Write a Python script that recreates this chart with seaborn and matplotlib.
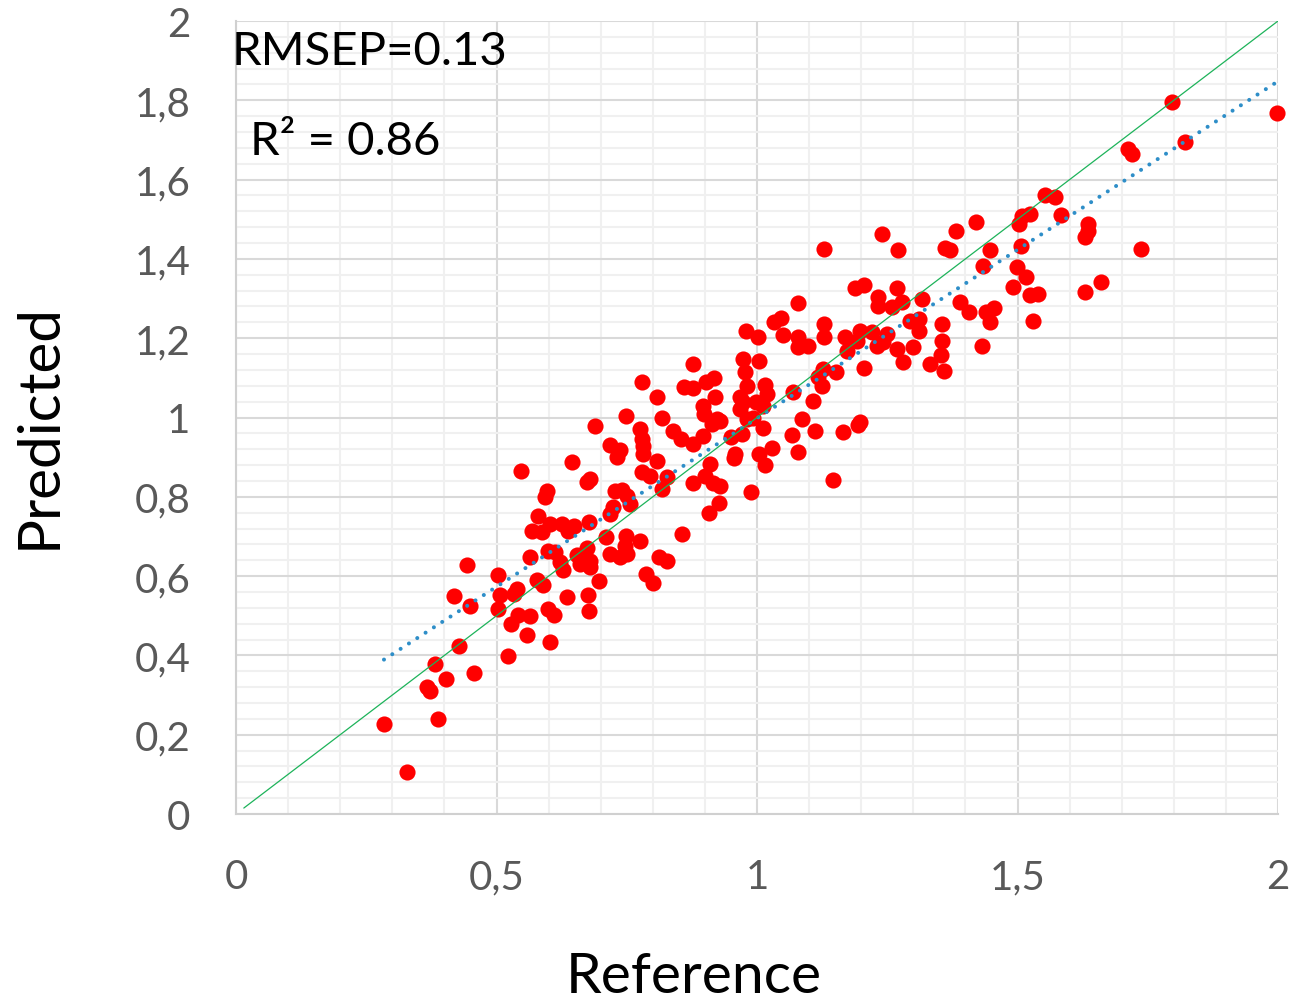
import matplotlib
matplotlib.use("Agg")
import matplotlib.pyplot as plt
from matplotlib.ticker import FixedLocator, FixedFormatter, MultipleLocator
import seaborn as sns
import pandas as pd

# ---------------- data ----------------
reference = [
    0.284, 0.328, 0.366, 0.372, 0.382, 0.388, 0.403, 0.418, 0.428, 0.444, 0.449, 0.457,
    0.503, 0.503, 0.507, 0.523, 0.528, 0.534, 0.539, 0.542, 0.547, 0.558, 0.564, 0.564,
    0.568, 0.577, 0.580, 0.587, 0.589, 0.593, 0.596, 0.598, 0.599, 0.603, 0.603, 0.610, 0.612,
    0.622, 0.628, 0.626, 0.637, 0.649, 0.636, 0.644, 0.654, 0.660, 0.673, 0.673, 0.680,
    0.678, 0.679, 0.679, 0.689, 0.696, 0.676, 0.678, 0.710, 0.718, 0.718, 0.737, 0.731,
    0.727, 0.740, 0.750, 0.756, 0.724, 0.718, 0.737, 0.750, 0.749, 0.747, 0.749, 0.775,
    0.779, 0.781, 0.782, 0.779, 0.775, 0.779, 0.795, 0.787, 0.801,
    0.809, 0.817, 0.839, 0.809, 0.827, 0.817, 0.811, 0.828, 0.857, 0.855, 0.878, 0.878,
    0.859, 0.878, 0.903, 0.917, 0.897, 0.898, 0.919, 0.923, 0.929, 0.913, 0.897, 0.910,
    0.878, 0.900, 0.916, 0.929, 0.928, 0.908, 0.951, 0.971, 0.958, 0.955, 0.973, 1.004,
    0.977, 0.980, 1.015, 1.019, 0.967, 0.973, 0.999, 1.012, 0.967, 0.980, 0.993, 1.012,
    1.004, 1.028, 1.015, 0.988, 1.067, 1.070, 1.086, 0.979, 1.002, 1.033, 1.047, 1.049,
    1.078, 1.079, 1.079, 1.098, 1.129, 1.129, 1.169, 1.172, 1.191, 1.198, 1.220, 1.233,
    1.233, 1.259, 1.278, 1.268, 1.189, 1.205, 1.316, 1.294, 1.310, 1.310, 1.249, 1.230,
    1.242, 1.268, 1.300, 1.281, 1.355, 1.356, 1.353, 1.332, 1.359, 1.390, 1.407, 1.440,
    1.454, 1.447, 1.431, 1.127, 1.118, 1.124, 1.152, 1.206, 1.107, 1.111, 1.166, 1.198,
    1.194, 1.079, 1.145, 1.129, 1.239, 1.271, 1.382, 1.420, 1.361, 1.370, 1.447, 1.434,
    1.509, 1.524, 1.502, 1.553, 1.572, 1.583, 1.636, 1.636, 1.630, 1.506, 1.737, 1.499,
    1.516, 1.491, 1.524, 1.540, 1.630, 1.660, 1.529, 1.796, 1.998, 1.822, 1.713, 1.719,
]
predicted = [
    0.227, 0.105, 0.320, 0.311, 0.378, 0.240, 0.340, 0.549, 0.423, 0.628, 0.525, 0.356,
    0.603, 0.517, 0.552, 0.399, 0.479, 0.555, 0.567, 0.502, 0.866, 0.451, 0.647, 0.500,
    0.715, 0.591, 0.752, 0.710, 0.578, 0.799, 0.815, 0.517, 0.664, 0.731, 0.435, 0.502, 0.662,
    0.635, 0.616, 0.731, 0.714, 0.726, 0.547, 0.887, 0.653, 0.631, 0.671, 0.838, 0.846,
    0.736, 0.638, 0.623, 0.979, 0.588, 0.552, 0.513, 0.699, 0.656, 0.931, 0.919, 0.900,
    0.815, 0.818, 0.802, 0.782, 0.774, 0.757, 0.648, 0.656, 0.701, 0.677, 1.004, 0.971,
    0.946, 0.928, 0.908, 1.089, 0.689, 0.862, 0.853, 0.605, 0.583,
    1.051, 1.000, 0.967, 0.891, 0.849, 0.820, 0.647, 0.639, 0.706, 0.946, 0.933, 1.135,
    1.076, 1.074, 1.089, 1.099, 1.030, 1.009, 1.051, 0.996, 0.992, 0.984, 0.954, 0.883,
    0.835, 0.852, 0.835, 0.828, 0.784, 0.759, 0.950, 0.958, 0.908, 0.897, 1.148, 1.143,
    1.114, 1.080, 1.082, 1.059, 1.051, 1.038, 1.038, 1.030, 1.021, 0.996, 1.000, 0.973,
    0.908, 0.922, 0.880, 0.811, 0.956, 1.064, 0.995, 1.219, 1.202, 1.240, 1.250, 1.208,
    1.289, 1.202, 1.177, 1.180, 1.236, 1.202, 1.202, 1.168, 1.194, 1.219, 1.215, 1.303,
    1.282, 1.278, 1.291, 1.327, 1.327, 1.333, 1.299, 1.244, 1.248, 1.219, 1.211, 1.181,
    1.190, 1.173, 1.177, 1.139, 1.235, 1.194, 1.158, 1.135, 1.118, 1.291, 1.267, 1.267,
    1.275, 1.242, 1.180, 1.122, 1.101, 1.080, 1.116, 1.124, 1.042, 0.965, 0.963, 0.989,
    0.982, 0.912, 0.843, 1.425, 1.463, 1.423, 1.471, 1.494, 1.427, 1.423, 1.422, 1.383,
    1.508, 1.513, 1.489, 1.560, 1.555, 1.511, 1.488, 1.471, 1.456, 1.433, 1.425, 1.379,
    1.354, 1.329, 1.310, 1.311, 1.316, 1.342, 1.243, 1.795, 1.768, 1.696, 1.677, 1.665,
]

identity_x = [0.015, 2.0]          # 1:1 line end points
trend_slope = 0.85                 # Excel linear trend line
trend_intercept = 0.148

x_ticks = [0, 0.5, 1, 1.5, 2]
x_tick_labels = ["0", "0,5", "1", "1,5", "2"]
y_ticks = [0, 0.2, 0.4, 0.6, 0.8, 1.0, 1.2, 1.4, 1.6, 1.8, 2.0]
y_tick_labels = ["0", "0,2", "0,4", "0,6", "0,8", "1", "1,2", "1,4", "1,6", "1,8", "2"]

x_label = "Reference"
y_label = "Predicted"
rmsep_text = "RMSEP=0.13"
r2_text = "R² = 0.86"

# ---------------- drawing ----------------
sns.set_theme(style="white")
plt.rcParams["font.family"] = ["Lato", "DejaVu Sans"]

df = pd.DataFrame({"Reference": reference, "Predicted": predicted})

fig = plt.figure(figsize=(12.93, 10.04), dpi=100)
ax = fig.add_axes([236 / 1293, 1 - 815 / 1004, (1278 - 236) / 1293, (815 - 22) / 1004])

ax.set_xlim(0, 2)
ax.set_ylim(0, 2)

ax.xaxis.set_major_locator(FixedLocator(x_ticks))
ax.xaxis.set_major_formatter(FixedFormatter(x_tick_labels))
ax.yaxis.set_major_locator(FixedLocator(y_ticks))
ax.yaxis.set_major_formatter(FixedFormatter(y_tick_labels))
ax.xaxis.set_minor_locator(MultipleLocator(0.1))
ax.yaxis.set_minor_locator(MultipleLocator(0.04))

ax.grid(which="minor", color="#F0F0F0", linewidth=1.5, zorder=0)
ax.grid(which="major", color="#D9D9D9", linewidth=1.5, zorder=0)
ax.set_axisbelow(True)

for s in ax.spines.values():
    s.set_visible(False)
ax.spines["left"].set_visible(True)
ax.spines["bottom"].set_visible(True)
ax.spines["left"].set_color("#D0D0D0")
ax.spines["bottom"].set_color("#D0D0D0")
ax.spines["left"].set_linewidth(1.5)
ax.spines["bottom"].set_linewidth(1.5)

ax.tick_params(which="both", length=0)
ax.tick_params(axis="both", which="major", labelsize=29, labelcolor="#595959")
ax.tick_params(axis="x", pad=32)
ax.tick_params(axis="y", pad=33)

sns.scatterplot(data=df, x="Reference", y="Predicted", ax=ax, s=135,
                color="#FF0000", linewidth=0, zorder=3, legend=False, clip_on=False)

tx = [min(reference), max(reference)]
ty = [trend_slope * v + trend_intercept for v in tx]
ax.plot(tx, ty, color="#2E8EC8", linewidth=2.9, linestyle=(0, (0.01, 2.45)),
        dash_capstyle="round", zorder=4, clip_on=False)
ax.plot(identity_x, identity_x, color="#1DB35A", linewidth=0.9, zorder=5)

ax.set_xlabel("")
ax.set_ylabel("")
fig.text(693.5 / 1293, 1 - 993 / 1004, x_label, fontsize=41, color="#000000",
         ha="center", va="baseline")
fig.text(56 / 1293, 1 - 426.5 / 1004, y_label, fontsize=42, color="#000000",
         rotation=90, rotation_mode="anchor", ha="center", va="baseline")

ax.text(232 / 1293, 1 - 52 / 1004, rmsep_text, transform=fig.transFigure,
        fontsize=34, color="#000000", ha="left", va="center", zorder=6)
ax.text(250 / 1293, 1 - 142 / 1004, r2_text, transform=fig.transFigure,
        fontsize=34, color="#000000", ha="left", va="center", zorder=6)

fig.savefig("out.png", dpi=100)
